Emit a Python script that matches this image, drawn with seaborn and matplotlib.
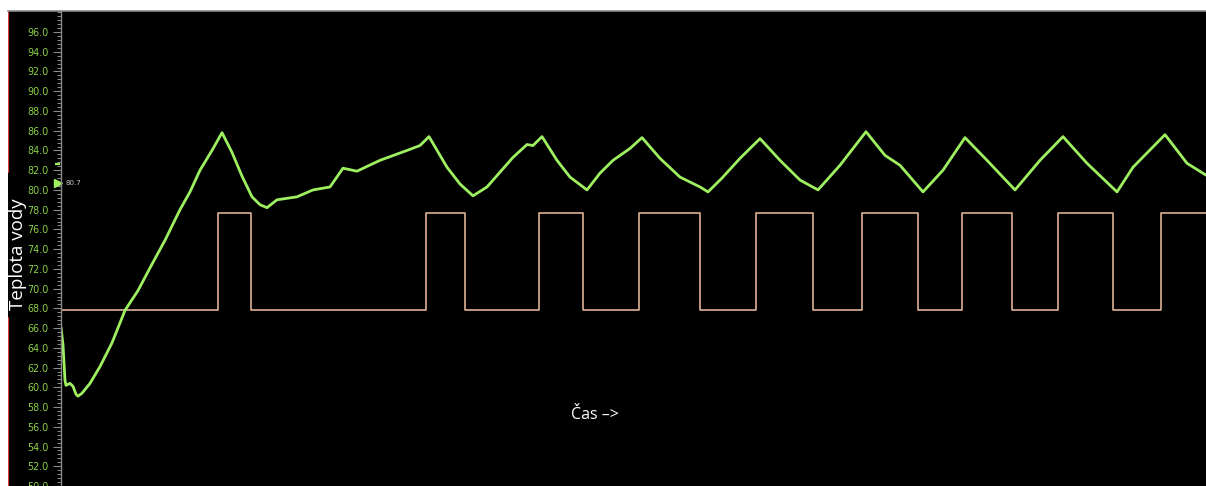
import matplotlib
matplotlib.use("Agg")
import matplotlib.pyplot as plt
from matplotlib.ticker import MultipleLocator, AutoMinorLocator
import matplotlib.transforms as mtransforms
import pandas as pd
import seaborn as sns

# Water temperature trace (time in samples, temperature in deg C)
temp_t = [0, 2, 4, 5, 9, 12, 15, 17, 21, 29, 39, 51, 64, 77, 89, 104, 119, 129,
          139, 151, 161, 171, 181, 191, 199, 206, 216, 236, 252, 269, 282, 296,
          319, 346, 359, 368, 386, 399, 412, 426, 439, 452, 466, 472, 481, 496,
          509, 526, 539, 552, 569, 581, 599, 619, 639, 647, 661, 679, 699, 719,
          739, 757, 779, 805, 824, 839, 862, 882, 904, 926, 954, 979, 1002, 1026,
          1056, 1072, 1104, 1126, 1145]
temp_c = [66.1, 64.3, 60.7, 60.2, 60.4, 60.1, 59.3, 59.1, 59.4, 60.4, 62.1,
          64.5, 67.8, 69.8, 72.1, 74.9, 78.0, 79.8, 82.0, 84.0, 85.8, 83.8, 81.4,
          79.3, 78.5, 78.2, 79.0, 79.3, 80.0, 80.3, 82.2, 81.9, 83.0, 84.0, 84.5,
          85.4, 82.3, 80.6, 79.4, 80.3, 81.8, 83.3, 84.6, 84.5, 85.4, 83.0, 81.3,
          80.0, 81.7, 83.0, 84.2, 85.3, 83.2, 81.3, 80.3, 79.8, 81.2, 83.2, 85.2,
          83.0, 81.0, 80.0, 82.5, 85.9, 83.5, 82.5, 79.8, 82.0, 85.3, 83.0, 80.0,
          83.0, 85.4, 82.7, 79.8, 82.3, 85.6, 82.7, 81.5]

# Heater relay: switching instants and the level drawn for off / on
relay_t = [0, 157, 190, 365, 404, 478, 522, 578, 639, 695, 752, 801, 857, 901,
           951, 997, 1052, 1100, 1145]
relay_state = [0, 1, 0, 1, 0, 1, 0, 1, 0, 1, 0, 1, 0, 1, 0, 1, 0, 1, 1]
relay_low, relay_high = 67.8, 77.7

# Marker values on the temperature scale
current_value = 80.7
setpoint_mark = 82.6

y_ticks = [50 + 2 * i for i in range(24)]

temp_df = pd.DataFrame({"t": temp_t, "temp": temp_c})
relay_df = pd.DataFrame({
    "t": relay_t,
    "level": [relay_high if s else relay_low for s in relay_state],
})

sns.set_theme(style="white")
plt.rcParams["font.family"] = ["DejaVu Sans"]

W, H = 1206, 486
fig = plt.figure(figsize=(W / 100, H / 100), dpi=100, facecolor="white")

# Black panel with red left edge and grey top edge
panel = fig.add_axes([8 / W, 0, 1 - 8 / W, (H - 11) / H])
panel.set_facecolor("black")
panel.set_xticks([])
panel.set_yticks([])
for side in ("bottom", "right"):
    panel.spines[side].set_visible(False)
panel.spines["top"].set_color("#8a8a8a")
panel.spines["top"].set_linewidth(1.2)
panel.spines["left"].set_visible(False)
panel.axvline(0, ymin=0, ymax=(486 - 318) / 475, color="#e03a3a", lw=1.6)
panel.axvline(0, ymin=(486 - 172) / 475, ymax=1, color="#e03a3a", lw=1.6)

# Data axes
ax = fig.add_axes([61 / W, 0, 1 - 61 / W, (H - 11) / H])
ax.patch.set_alpha(0)

sns.lineplot(data=relay_df, x="t", y="level", ax=ax, drawstyle="steps-post",
             color="#dcb195", lw=1.2, sort=False, estimator=None)
sns.lineplot(data=temp_df, x="t", y="temp", ax=ax, color="#9ef060",
             lw=2.0, sort=False, estimator=None)

ax.set_xlim(0, 1145)
ax.set_ylim(50, 98.13)
ax.set_xticks([])
ax.set_xlabel("")
ax.set_ylabel("")
ax.yaxis.set_major_locator(MultipleLocator(2))
ax.yaxis.set_minor_locator(AutoMinorLocator(5))
ax.set_yticks(y_ticks)
ax.set_yticklabels([f"{v:.1f}" for v in y_ticks])
ax.tick_params(axis="y", which="major", left=True, length=6, width=0.8,
               color="#8a8a8a", labelcolor="#8cd048", labelsize=6.9, pad=3)
ax.tick_params(axis="y", which="minor", left=True, length=3, width=0.7,
               color="#8a8a8a")
for side in ("top", "right", "bottom"):
    ax.spines[side].set_visible(False)
ax.spines["left"].set_color("#8a8a8a")
ax.spines["left"].set_linewidth(1.0)

# Current-value pointer and setpoint dash on the scale
trans = mtransforms.blended_transform_factory(ax.transAxes, ax.transData)
px = 1 / (W - 61)
ax.plot([-3.5 * px], [current_value], marker=">", color="#9ef060", ms=6,
        transform=trans, clip_on=False)
ax.text(4 * px, current_value, f"{current_value:.1f}", transform=trans,
        color="#c8c8c8", fontsize=5, va="center", ha="left")
ax.plot([-6 * px, -1 * px], [setpoint_mark, setpoint_mark], color="#9ef060",
        lw=1.6, transform=trans, clip_on=False, solid_capstyle="butt")

# Axis captions
fig.text(18.5 / W, 1 - 254 / H, "Teplota vody", rotation=90, color="white",
         fontsize=13.5, family=["Open Sans", "DejaVu Sans"],
         ha="center", va="center")
fig.text(595 / W, 1 - 415 / H, "Čas \u2013>", color="white", fontsize=11.5,
         family=["Open Sans", "DejaVu Sans"], ha="center", va="center")

fig.savefig("out.png", dpi=100, facecolor="white")
